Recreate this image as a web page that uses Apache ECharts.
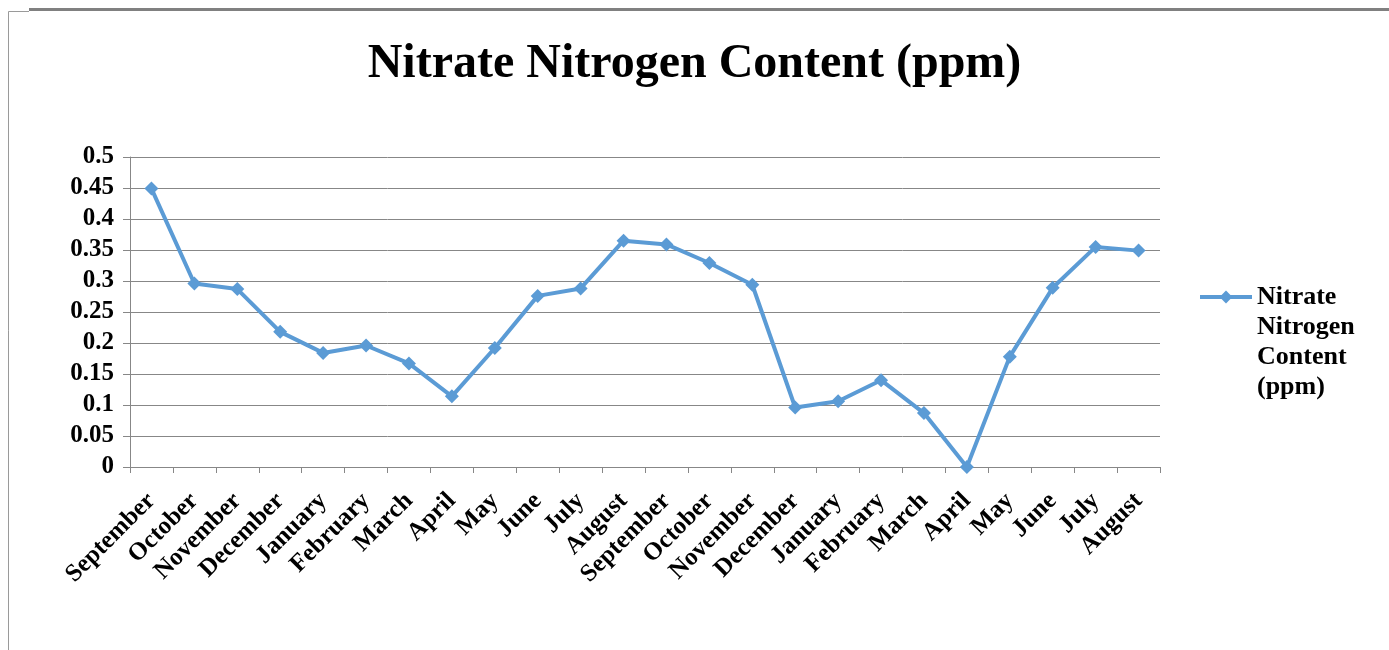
<!DOCTYPE html>
<html>
<head>
<meta charset="utf-8">
<script src="https://cdn.jsdelivr.net/npm/echarts@6/dist/echarts.min.js"></script>
<style>
  html, body { margin: 0; padding: 0; background: #fff; }
  #main { width: 1389px; height: 650px; }
</style>
</head>
<body>
<div id="main"></div>
<script>
// months, two seasons
var months = ['September', 'October', 'November', 'December', 'January', 'February',
  'March', 'April', 'May', 'June', 'July', 'August',
  'September', 'October', 'November', 'December', 'January', 'February',
  'March', 'April', 'May', 'June', 'July', 'August'];
// nitrate nitrogen values
var nitrate = [0.449, 0.296, 0.287, 0.218, 0.184, 0.196, 0.167, 0.114, 0.192, 0.276, 0.288, 0.365,
  0.359, 0.329, 0.294, 0.096, 0.106, 0.140, 0.087, 0.0, 0.178, 0.289, 0.355, 0.349];
var seriesName = 'Nitrate Nitrogen Content (ppm)';
var yMin = 0, yMax = 0.5, yStep = 0.05;

var myChart = echarts.init(document.getElementById('main'));
var serif = '"Liberation Serif", "Times New Roman", serif';

var option = {
  backgroundColor: '#fff',
  animation: false,
  title: {
    text: 'Nitrate Nitrogen Content (ppm)',
    left: 'center',
    top: 36,
    textStyle: { fontFamily: serif, fontWeight: 'bold', fontSize: 48, color: '#000' }
  },
  legend: {
    orient: 'vertical',
    left: 1193,
    top: 187,
    itemWidth: 52,
    itemHeight: 16,
    lineStyle: { width: 4 },
    // blank lines first so the icon sits level with the first text line
    formatter: function () { return '\n\n\nNitrate\nNitrogen\nContent\n(ppm)'; },
    textStyle: {
      fontFamily: serif, fontWeight: 'bold', fontSize: 26, color: '#000', lineHeight: 30
    }
  },
  grid: { left: 130, right: 229, top: 157, bottom: 183 },
  xAxis: {
    type: 'category',
    data: months,
    boundaryGap: true,
    axisLine: { lineStyle: { color: '#878787', width: 1 } },
    axisTick: { show: true, length: 6, lineStyle: { color: '#878787' } },
    axisLabel: {
      interval: 0, rotate: 45, margin: 30,
      fontFamily: serif, fontWeight: 'bold', fontSize: 25, color: '#000'
    }
  },
  yAxis: {
    type: 'value',
    min: yMin, max: yMax, interval: yStep,
    axisLine: { show: true, lineStyle: { color: '#878787', width: 1 } },
    axisTick: { show: true, length: 7, lineStyle: { color: '#878787' } },
    splitLine: { lineStyle: { color: '#878787', width: 1 } },
    axisLabel: {
      margin: 16,
      fontFamily: serif, fontWeight: 'bold', fontSize: 25, color: '#000',
      formatter: function (v) { return String(+v.toFixed(2)); }
    }
  },
  series: [{
    name: seriesName,
    type: 'line',
    data: nitrate,
    symbol: 'diamond',
    symbolSize: 14,
    lineStyle: { color: '#5B9BD5', width: 4 },
    itemStyle: { color: '#5B9BD5' }
  }],
  graphic: [
    // page frame around the figure
    { type: 'rect', shape: { x: 29, y: 8, width: 1360, height: 3 }, style: { fill: '#808080' } },
    { type: 'line', shape: { x1: 8.5, y1: 11.5, x2: 29, y2: 11.5 }, style: { stroke: '#9a9a9a', lineWidth: 1 } },
    { type: 'line', shape: { x1: 8.5, y1: 11.5, x2: 8.5, y2: 650 }, style: { stroke: '#9a9a9a', lineWidth: 1 } }
  ]
};

option && myChart.setOption(option);
</script>
</body>
</html>
